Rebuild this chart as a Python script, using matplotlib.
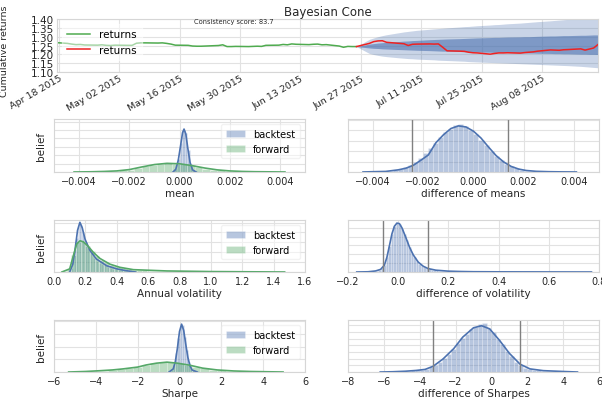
import numpy as np
import pandas as pd
import matplotlib
matplotlib.use("Agg")
import matplotlib.pyplot as plt
import matplotlib.dates as mdates

BLUE = "#4C72B0"
GREEN = "#55A868"
LINE_GREEN = "#4fab4f"
LINE_RED = "#ee2222"
GRID = "#e2e2e2"
SPINE = "#d6d6d6"
TEXT = "#262626"

# ---- Bayesian cone -------------------------------------------------------
train_dates = pd.bdate_range("2015-04-17", "2015-06-26")
train_cum = [1.267, 1.262, 1.258, 1.255, 1.256, 1.253, 1.252, 1.254, 1.251, 1.250,
             1.252, 1.251, 1.251, 1.263, 1.265, 1.265, 1.264, 1.265, 1.262, 1.258,
             1.252, 1.251, 1.247, 1.246, 1.246, 1.247, 1.250, 1.254, 1.244, 1.244,
             1.245, 1.244, 1.245, 1.246, 1.245, 1.251, 1.252, 1.256, 1.254, 1.259,
             1.257, 1.255, 1.257, 1.258, 1.254, 1.255, 1.247, 1.240, 1.245, 1.244,
             1.244]

test_dates = pd.bdate_range("2015-06-26", "2015-08-21")
test_cum = [1.244, 1.262, 1.272, 1.276, 1.277, 1.268, 1.262, 1.260, 1.250, 1.257,
            1.258, 1.259, 1.258, 1.259, 1.240, 1.220, 1.218, 1.217, 1.212, 1.209,
            1.208, 1.201, 1.205, 1.208, 1.208, 1.209, 1.207, 1.210, 1.212, 1.214,
            1.218, 1.225, 1.224, 1.223, 1.226, 1.227, 1.231, 1.224, 1.230, 1.236,
            1.256]

cone_p5 = [1.244, 1.205, 1.199, 1.194, 1.190, 1.187, 1.180, 1.178, 1.176, 1.175,
           1.173, 1.170, 1.169, 1.167, 1.166, 1.165, 1.162, 1.161, 1.159, 1.158,
           1.157, 1.154, 1.153, 1.152, 1.151, 1.150, 1.147, 1.146, 1.145, 1.144,
           1.143, 1.140, 1.139, 1.138, 1.137, 1.136, 1.132, 1.130, 1.128, 1.126,
           1.124]
cone_p95 = [1.244, 1.285, 1.293, 1.300, 1.306, 1.311, 1.323, 1.327, 1.330, 1.333,
            1.336, 1.342, 1.344, 1.346, 1.348, 1.350, 1.355, 1.357, 1.358, 1.360,
            1.362, 1.366, 1.368, 1.369, 1.371, 1.373, 1.377, 1.379, 1.381, 1.383,
            1.385, 1.390, 1.392, 1.394, 1.396, 1.398, 1.402, 1.404, 1.405, 1.407,
            1.408]
cone_p25 = [1.244, 1.236, 1.234, 1.233, 1.231, 1.230, 1.227, 1.226, 1.225, 1.224,
            1.223, 1.221, 1.220, 1.219, 1.218, 1.218, 1.216, 1.215, 1.214, 1.214,
            1.213, 1.212, 1.211, 1.211, 1.210, 1.210, 1.208, 1.208, 1.207, 1.207,
            1.206, 1.205, 1.204, 1.204, 1.203, 1.203, 1.201, 1.201, 1.200, 1.200,
            1.199]
cone_p75 = [1.244, 1.258, 1.261, 1.264, 1.266, 1.268, 1.273, 1.275, 1.276, 1.278,
            1.279, 1.283, 1.284, 1.285, 1.286, 1.287, 1.289, 1.290, 1.291, 1.292,
            1.293, 1.295, 1.296, 1.296, 1.297, 1.298, 1.299, 1.300, 1.300, 1.301,
            1.302, 1.304, 1.304, 1.305, 1.306, 1.306, 1.308, 1.308, 1.309, 1.310,
            1.310]
consistency_score = 83.7

# ---- posterior beliefs (heights relative to the panel height) ------------
mean_bt_range = (-0.0003, 0.0007)
mean_bt_hist = [0.01, 0.06, 0.24, 0.55, 0.80, 0.73, 0.42, 0.16, 0.04, 0.01]
mean_bt_kde_x = [-0.00026, -0.00015, -0.00005, 0.00005, 0.00012, 0.00018,
                 0.00025, 0.00033, 0.00042, 0.00052, 0.00066]
mean_bt_kde_y = [0.0, 0.05, 0.22, 0.52, 0.74, 0.81, 0.72, 0.45, 0.18, 0.04, 0.0]

mean_fw_range = (-0.0042, 0.0042)
mean_fw_hist = [0.002, 0.002, 0.004, 0.008, 0.012, 0.018, 0.03, 0.045, 0.08, 0.11,
                0.14, 0.155, 0.165, 0.16, 0.15, 0.125, 0.095, 0.065, 0.045, 0.03,
                0.018, 0.012, 0.008, 0.005, 0.004, 0.003, 0.002, 0.001]
mean_fw_kde_x = [-0.0042, -0.0035, -0.003, -0.0025, -0.002, -0.0015, -0.001, -0.0005,
                 0.0, 0.0005, 0.001, 0.0015, 0.002, 0.0025, 0.003, 0.0035, 0.0042]
mean_fw_kde_y = [0.0, 0.004, 0.01, 0.02, 0.045, 0.095, 0.14, 0.163, 0.155, 0.12,
                 0.075, 0.04, 0.02, 0.01, 0.005, 0.003, 0.0]

mean_diff_range = (-0.0044, 0.0042)
mean_diff_hist = [0.004, 0.005, 0.007, 0.009, 0.013, 0.02, 0.034, 0.055, 0.086, 0.13,
                  0.188, 0.26, 0.35, 0.45, 0.555, 0.655, 0.75, 0.82, 0.88, 0.90,
                  0.87, 0.785, 0.71, 0.605, 0.50, 0.40, 0.30, 0.22, 0.157, 0.106,
                  0.069, 0.043, 0.026, 0.016, 0.01, 0.007, 0.005, 0.004, 0.003, 0.002,
                  0.002, 0.001, 0.001]
mean_diff_kde_x = [-0.0044, -0.004, -0.0035, -0.003, -0.0027, -0.0024, -0.0021,
                   -0.0018, -0.0015, -0.0012, -0.0009, -0.0006, -0.0003, 0.0, 0.0003,
                   0.0006, 0.0009, 0.0012, 0.0015, 0.0018, 0.0021, 0.0025, 0.003,
                   0.0035, 0.0041]
mean_diff_kde_y = [0.0, 0.005, 0.01, 0.04, 0.07, 0.125, 0.22, 0.32, 0.55, 0.7,
                   0.82, 0.87, 0.85, 0.77, 0.64, 0.47, 0.31, 0.19, 0.105, 0.055,
                   0.028, 0.012, 0.005, 0.002, 0.0]
mean_diff_hpd = (-0.00243, 0.00136)

vol_bt_range = (0.10, 0.50)
vol_bt_hist = [0.02, 0.08, 0.22, 0.42, 0.66, 0.87, 0.95, 0.90, 0.76, 0.63,
               0.54, 0.46, 0.41, 0.36, 0.31, 0.27, 0.24, 0.21, 0.18, 0.165,
               0.15, 0.135, 0.125, 0.115, 0.10, 0.088, 0.077, 0.067, 0.058, 0.05,
               0.045, 0.04, 0.034, 0.03, 0.026, 0.022, 0.018, 0.014, 0.01, 0.007]
vol_bt_kde_x = [0.10, 0.12, 0.135, 0.15, 0.165, 0.18, 0.198, 0.23, 0.27, 0.336,
                0.40, 0.46, 0.52]
vol_bt_kde_y = [0.0, 0.15, 0.45, 0.8, 0.955, 0.85, 0.63, 0.41, 0.25, 0.12,
                0.06, 0.025, 0.0]

vol_fw_range = (0.05, 1.49)
vol_fw_hist = [0.01, 0.05, 0.33, 0.57, 0.59, 0.50, 0.40, 0.31, 0.24, 0.185,
               0.14, 0.11, 0.087, 0.068, 0.054, 0.044, 0.037, 0.032, 0.028, 0.025,
               0.022, 0.02, 0.018, 0.016, 0.015, 0.013, 0.012, 0.011, 0.01, 0.009,
               0.008, 0.008, 0.007, 0.006, 0.006, 0.005, 0.005, 0.004, 0.004, 0.004,
               0.003, 0.003, 0.003, 0.003, 0.002, 0.002, 0.002, 0.001]
vol_fw_kde_x = [0.05, 0.10, 0.123, 0.145, 0.166, 0.187, 0.219, 0.25, 0.293, 0.357,
                0.42, 0.506, 0.72, 1.0, 1.47]
vol_fw_kde_y = [0.0, 0.06, 0.31, 0.54, 0.60, 0.58, 0.49, 0.38, 0.26, 0.15,
                0.09, 0.045, 0.02, 0.008, 0.0]

vol_diff_range = (-0.13, 0.31)
vol_diff_hist = [0.003, 0.005, 0.008, 0.013, 0.025, 0.04, 0.07, 0.14, 0.28, 0.50,
                 0.73, 0.88, 0.94, 0.93, 0.85, 0.73, 0.61, 0.48, 0.37, 0.29,
                 0.22, 0.16, 0.12, 0.09, 0.07, 0.055, 0.045, 0.037, 0.03, 0.025,
                 0.021, 0.018, 0.015, 0.013, 0.012, 0.011, 0.01, 0.009, 0.008, 0.007,
                 0.006, 0.005, 0.005, 0.004]
vol_diff_kde_x = [-0.165, -0.12, -0.09, -0.07, -0.055, -0.045, -0.035, -0.025, -0.015,
                  -0.005, 0.005, 0.015, 0.03, 0.045, 0.06, 0.08, 0.1, 0.12, 0.15,
                  0.2, 0.25, 0.3, 0.4, 0.5, 0.6, 0.77]
vol_diff_kde_y = [0.0, 0.004, 0.02, 0.05, 0.13, 0.28, 0.50, 0.73, 0.88, 0.94, 0.93,
                  0.85, 0.67, 0.48, 0.33, 0.19, 0.11, 0.065, 0.035, 0.016, 0.009,
                  0.005, 0.003, 0.002, 0.001, 0.0]
vol_diff_hpd = (-0.06, 0.12)

sharpe_bt_range = (-0.5, 0.9)
sharpe_bt_hist = [0.01, 0.04, 0.14, 0.36, 0.66, 0.88, 0.90, 0.68, 0.42, 0.2,
                  0.08, 0.03, 0.01, 0.004]
sharpe_bt_kde_x = [-0.5, -0.3, -0.2, -0.1, 0.0, 0.1, 0.2, 0.3, 0.4, 0.5, 0.6, 0.85]
sharpe_bt_kde_y = [0.0, 0.06, 0.2, 0.46, 0.78, 0.92, 0.80, 0.53, 0.28, 0.12, 0.04, 0.0]

sharpe_fw_range = (-5.4, 5.0)
sharpe_fw_hist = [0.003, 0.005, 0.008, 0.014, 0.022, 0.033, 0.05, 0.07, 0.095, 0.135,
                  0.165, 0.185, 0.19, 0.165, 0.135, 0.10, 0.07, 0.048, 0.033, 0.023,
                  0.016, 0.012, 0.009, 0.006, 0.004, 0.002]
sharpe_fw_kde_x = [-5.3, -4.5, -3.8, -3.2, -2.7, -2.0, -1.6, -1.1, -0.6, -0.1, 0.5,
                   1.1, 1.8, 2.6, 3.4, 4.2, 4.95]
sharpe_fw_kde_y = [0.0, 0.01, 0.025, 0.04, 0.06, 0.095, 0.135, 0.17, 0.19, 0.17,
                   0.13, 0.075, 0.04, 0.02, 0.01, 0.005, 0.0]

sharpe_diff_range = (-6.25, 4.75)
sharpe_diff_hist = [0.002, 0.003, 0.004, 0.005, 0.007, 0.012, 0.022, 0.03, 0.035, 0.045,
                    0.06, 0.09, 0.13, 0.19, 0.27, 0.35, 0.45, 0.55, 0.65, 0.74,
                    0.82, 0.87, 0.92, 0.95, 0.85, 0.76, 0.64, 0.53, 0.41, 0.30,
                    0.20, 0.13, 0.085, 0.06, 0.045, 0.035, 0.026, 0.02, 0.015, 0.011,
                    0.008, 0.005, 0.003, 0.002]
sharpe_diff_kde_x = [-6.2, -5.5, -4.8, -4.2, -3.7, -3.25, -2.7, -2.1, -1.6, -1.0,
                     -0.55, -0.1, 0.45, 1.0, 1.6, 2.15, 2.9, 4.0, 4.8]
sharpe_diff_kde_y = [0.0, 0.005, 0.015, 0.03, 0.05, 0.11, 0.25, 0.45, 0.67, 0.85,
                     0.89, 0.83, 0.61, 0.36, 0.15, 0.06, 0.026, 0.01, 0.0]
sharpe_diff_hpd = (-3.25, 1.62)


def draw_dist(ax, rng, hist, kde_x, kde_y, color, label=None):
    edges = np.linspace(rng[0], rng[1], len(hist) + 1)
    ax.bar(edges[:-1], hist, width=np.diff(edges), align="edge", color=color,
           alpha=0.4, edgecolor="white", linewidth=0.4, label=label)
    ax.plot(kde_x, kde_y, color=color, lw=1.2)


def style_panel(ax, xlim, xticks, ystep, xlabel):
    ax.set_xlim(xlim)
    ax.set_ylim(0, 1)
    ax.set_xticks(xticks)
    ax.set_yticks(np.arange(0, 1.0001, ystep))
    ax.tick_params(axis="y", length=0, labelleft=False)
    ax.tick_params(axis="x", length=0, labelsize=7, colors=TEXT, pad=3)
    ax.grid(True, color=GRID, lw=0.8)
    ax.set_axisbelow(True)
    for s in ax.spines.values():
        s.set_color(SPINE)
        s.set_linewidth(0.8)
    ax.set_xlabel(xlabel, fontsize=7.5, color=TEXT, labelpad=1)


fig = plt.figure(figsize=(6.02, 4.02), dpi=100)

# ---- cone axes
ax = fig.add_axes([0.0947, 0.8184, 0.8987, 0.1318])
ax.fill_between(test_dates, cone_p5, cone_p95, color=BLUE, alpha=0.3, lw=0)
ax.fill_between(test_dates, cone_p25, cone_p75, color=BLUE, alpha=0.6, lw=0)
ax.plot(train_dates, train_cum, color=LINE_GREEN, lw=1.1, label="returns")
ax.plot(test_dates, test_cum, color=LINE_RED, lw=1.1, label="returns")
ax.set_xlim(pd.Timestamp("2015-04-17 14:00"), pd.Timestamp("2015-08-21"))
ax.set_ylim(1.10, 1.40)
ax.set_yticks(np.arange(1.10, 1.4001, 0.05))
ax.set_xticks(pd.date_range("2015-04-18", periods=9, freq="14D"))
ax.xaxis.set_major_formatter(mdates.DateFormatter("%b %d %Y"))
ax.tick_params(axis="y", length=0, labelsize=7.5, colors=TEXT, pad=2)
ax.tick_params(axis="x", length=0, labelsize=6.8, colors=TEXT, pad=1)
for lbl in ax.get_xticklabels():
    lbl.set_rotation(30)
    lbl.set_ha("right")
    lbl.set_rotation_mode("anchor")
ax.grid(True, color=GRID, lw=0.8)
ax.set_axisbelow(True)
for s in ax.spines.values():
    s.set_color(SPINE)
    s.set_linewidth(0.8)
ax.set_title("Bayesian Cone", fontsize=8.5, color=TEXT, pad=3)
ax.set_ylabel("Cumulative returns", fontsize=6.8, color=TEXT)
ax.yaxis.set_label_coords(-0.088, 0.42)
ax.text(0.40, 0.90, "Consistency score: %.1f" % consistency_score, fontsize=4.8,
        color=TEXT, ha="right", va="bottom", transform=ax.transAxes)
leg = ax.legend(loc="upper left", frameon=True, framealpha=0.5, fontsize=7.5,
                handlelength=2.2, borderpad=0.5, labelspacing=0.5)
leg.get_frame().set_edgecolor("white")

# ---- distribution panels
left_x, right_x, width = 0.0897, 0.578, 0.417
rows = [(0.5697, 0.1318), (0.3209, 0.1294), (0.0721, 0.1294)]

panels = [
    dict(xlabel="mean", xlim=(-0.005, 0.005), xticks=[-0.004, -0.002, 0.0, 0.002, 0.004],
         ystep=0.158,
         bt=(mean_bt_range, mean_bt_hist, mean_bt_kde_x, mean_bt_kde_y),
         fw=(mean_fw_range, mean_fw_hist, mean_fw_kde_x, mean_fw_kde_y),
         dlabel="difference of means", dxlim=(-0.005, 0.005),
         dxticks=[-0.004, -0.002, 0.0, 0.002, 0.004], dystep=0.196,
         diff=(mean_diff_range, mean_diff_hist, mean_diff_kde_x, mean_diff_kde_y),
         hpd=mean_diff_hpd),
    dict(xlabel="Annual volatility", xlim=(0.0, 1.6), xticks=np.arange(0, 1.61, 0.2),
         ystep=0.19,
         bt=(vol_bt_range, vol_bt_hist, vol_bt_kde_x, vol_bt_kde_y),
         fw=(vol_fw_range, vol_fw_hist, vol_fw_kde_x, vol_fw_kde_y),
         dlabel="difference of volatility", dxlim=(-0.2, 0.8),
         dxticks=[-0.2, 0.0, 0.2, 0.4, 0.6, 0.8], dystep=0.17,
         diff=(vol_diff_range, vol_diff_hist, vol_diff_kde_x, vol_diff_kde_y),
         hpd=vol_diff_hpd),
    dict(xlabel="Sharpe", xlim=(-6, 6), xticks=[-6, -4, -2, 0, 2, 4, 6],
         ystep=0.245,
         bt=(sharpe_bt_range, sharpe_bt_hist, sharpe_bt_kde_x, sharpe_bt_kde_y),
         fw=(sharpe_fw_range, sharpe_fw_hist, sharpe_fw_kde_x, sharpe_fw_kde_y),
         dlabel="difference of Sharpes", dxlim=(-8, 6),
         dxticks=[-8, -6, -4, -2, 0, 2, 4, 6], dystep=0.128,
         diff=(sharpe_diff_range, sharpe_diff_hist, sharpe_diff_kde_x, sharpe_diff_kde_y),
         hpd=sharpe_diff_hpd),
]

for (bottom, height), p in zip(rows, panels):
    axl = fig.add_axes([left_x, bottom, width, height])
    draw_dist(axl, *p["bt"], color=BLUE, label="backtest")
    draw_dist(axl, *p["fw"], color=GREEN, label="forward")
    style_panel(axl, p["xlim"], p["xticks"], p["ystep"], p["xlabel"])
    axl.set_ylabel("belief", fontsize=7.5, color=TEXT, labelpad=6)
    lg = axl.legend(loc="upper right", frameon=True, framealpha=0.5, fontsize=7,
                    handlelength=2.0, borderpad=0.5, labelspacing=0.5)
    lg.get_frame().set_edgecolor("#e6e6e6")

    axr = fig.add_axes([right_x, bottom, width, height])
    draw_dist(axr, *p["diff"], color=BLUE)
    for v in p["hpd"]:
        axr.axvline(v, color="0.5", lw=1.0)
    style_panel(axr, p["dxlim"], p["dxticks"], p["dystep"], p["dlabel"])

fig.savefig("out.png", dpi=100)
